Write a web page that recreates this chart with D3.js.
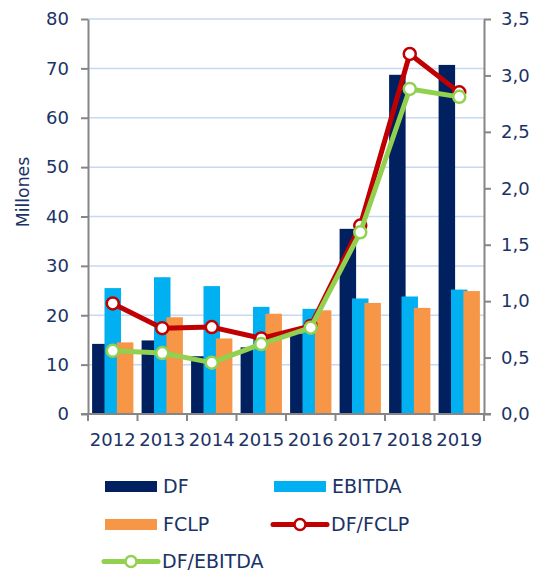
<!DOCTYPE html>
<html>
<head>
<meta charset="utf-8">
<script src="https://cdn.jsdelivr.net/npm/d3@7"></script>
<style>
  body { margin: 0; background: #fff; }
  svg { display: block; }
  svg text { font-family: "DejaVu Sans", Verdana, sans-serif; }
  .axis text { fill: #1b3366; font-size: 18px; }
  .axis path, .axis line { stroke: #868686; stroke-width: 2; }
</style>
</head>
<body>
<script>
(function() {
    // chart data
    var years = ["2012", "2013", "2014", "2015", "2016", "2017", "2018", "2019"];
    var df = [14.2, 14.9, 11.7, 13.5, 16.3, 37.5, 68.7, 70.7];
    var ebitda = [25.5, 27.7, 25.9, 21.7, 21.3, 23.4, 23.8, 25.2];
    var fclp = [14.5, 19.6, 15.3, 20.3, 21.0, 22.5, 21.5, 24.9];
    var dfFclp = [0.98, 0.76, 0.77, 0.67, 0.78, 1.67, 3.19, 2.85];
    var dfEbitda = [0.56, 0.54, 0.455, 0.62, 0.765, 1.61, 2.88, 2.81];
    var leftTicks = [0, 10, 20, 30, 40, 50, 60, 70, 80];
    var rightTicks = [0, 0.5, 1, 1.5, 2, 2.5, 3, 3.5];

    var barSeries = [
        { name: "DF", values: df, color: "#002060" },
        { name: "EBITDA", values: ebitda, color: "#00b0f0" },
        { name: "FCLP", values: fclp, color: "#f79646" }
    ];
    var lineSeries = [
        { name: "DF/FCLP", values: dfFclp, color: "#c00000" },
        { name: "DF/EBITDA", values: dfEbitda, color: "#92d050" }
    ];

    var width = 537, height = 571;
    var plot = { left: 88, right: 484, top: 19, bottom: 414 };

    var svg = d3.select("body").append("svg")
        .attr("width", width)
        .attr("height", height);

    // scales
    var x = d3.scaleBand().domain(years).range([plot.left, plot.right]).padding(0);
    var offset = d3.scalePoint().domain(barSeries.map(function(s) { return s.name; })).range([-12.4, 12.4]);
    var barWidth = 16.5;
    var yLeft = d3.scaleLinear().domain([0, 80]).range([plot.bottom, plot.top]);
    var yRight = d3.scaleLinear().domain([0, 3.5]).range([plot.bottom, plot.top]);

    // gridlines
    svg.append("g").selectAll("line")
        .data(leftTicks.slice(1))
        .enter().append("line")
        .attr("x1", plot.left).attr("x2", plot.right)
        .attr("y1", function(d) { return yLeft(d); })
        .attr("y2", function(d) { return yLeft(d); })
        .attr("stroke", "#c6d9f1")
        .attr("stroke-width", 1.5);

    // bars
    barSeries.forEach(function(s) {
        svg.append("g").selectAll("rect")
            .data(s.values)
            .enter().append("rect")
            .attr("x", function(d, i) { return x(years[i]) + x.bandwidth() / 2 + offset(s.name) - barWidth / 2; })
            .attr("y", function(d) { return yLeft(d); })
            .attr("width", barWidth)
            .attr("height", function(d) { return yLeft(0) - yLeft(d); })
            .attr("fill", s.color);
    });

    // axes
    svg.append("g").attr("class", "axis")
        .attr("transform", "translate(" + plot.left + ",0)")
        .call(d3.axisLeft(yLeft).tickValues(leftTicks).tickSize(7).tickSizeOuter(0).tickPadding(12));

    var comma = d3.formatLocale({ decimal: ",", thousands: ".", grouping: [3], currency: ["", ""] }).format(".1f");
    svg.append("g").attr("class", "axis")
        .attr("transform", "translate(" + plot.right + ",0)")
        .call(d3.axisRight(yRight).tickValues(rightTicks).tickFormat(comma).tickSize(7).tickSizeOuter(0).tickPadding(10));

    var bottom = svg.append("g").attr("class", "axis")
        .attr("transform", "translate(0," + plot.bottom + ")");
    bottom.append("line")
        .attr("x1", plot.left - 7).attr("x2", plot.right + 7);
    bottom.selectAll(".tick-mark")
        .data(years.concat(["end"]))
        .enter().append("line")
        .attr("class", "tick-mark")
        .attr("x1", function(d, i) { return plot.left + i * x.bandwidth(); })
        .attr("x2", function(d, i) { return plot.left + i * x.bandwidth(); })
        .attr("y1", 0).attr("y2", 7);
    bottom.selectAll("text")
        .data(years)
        .enter().append("text")
        .attr("x", function(d) { return x(d) + x.bandwidth() / 2; })
        .attr("y", 32)
        .attr("text-anchor", "middle")
        .text(function(d) { return d; });

    // axis title
    svg.append("text")
        .attr("transform", "translate(29,192) rotate(-90)")
        .attr("text-anchor", "middle")
        .attr("fill", "#1b3366")
        .attr("font-size", "17.3px")
        .text("Millones");

    // lines
    var line = d3.line()
        .x(function(d, i) { return x(years[i]) + x.bandwidth() / 2; })
        .y(function(d) { return yRight(d); });

    lineSeries.forEach(function(s) {
        var g = svg.append("g");
        g.append("path")
            .datum(s.values)
            .attr("d", line)
            .attr("fill", "none")
            .attr("stroke", s.color)
            .attr("stroke-width", 5)
            .attr("stroke-linejoin", "round");
        g.selectAll("circle")
            .data(s.values)
            .enter().append("circle")
            .attr("cx", function(d, i) { return x(years[i]) + x.bandwidth() / 2; })
            .attr("cy", function(d) { return yRight(d); })
            .attr("r", 6)
            .attr("fill", "#fff")
            .attr("stroke", s.color)
            .attr("stroke-width", 2.5);
    });

    // legend
    var legendItems = [
        { s: barSeries[0], type: "bar", x: 105, y: 486.5 },
        { s: barSeries[1], type: "bar", x: 274, y: 486.5 },
        { s: barSeries[2], type: "bar", x: 105, y: 524.5 },
        { s: lineSeries[0], type: "line", x: 273, y: 524.5 },
        { s: lineSeries[1], type: "line", x: 104, y: 561.5 }
    ];
    var legend = svg.append("g");
    legendItems.forEach(function(item) {
        var g = legend.append("g").attr("transform", "translate(" + item.x + "," + item.y + ")");
        if (item.type === "bar") {
            g.append("rect")
                .attr("x", 0).attr("y", -5.5)
                .attr("width", 52).attr("height", 11)
                .attr("fill", item.s.color);
        } else {
            g.append("line")
                .attr("x1", 0).attr("x2", 54)
                .attr("stroke", item.s.color)
                .attr("stroke-width", 5)
                .attr("stroke-linecap", "round");
            g.append("circle")
                .attr("cx", 27).attr("r", 5.5)
                .attr("fill", "#fff")
                .attr("stroke", item.s.color)
                .attr("stroke-width", 2.5);
        }
        g.append("text")
            .attr("x", 58).attr("y", 6.5)
            .attr("fill", "#1b3366")
            .attr("font-size", "19px")
            .text(item.s.name);
    });
})();
</script>
</body>
</html>
